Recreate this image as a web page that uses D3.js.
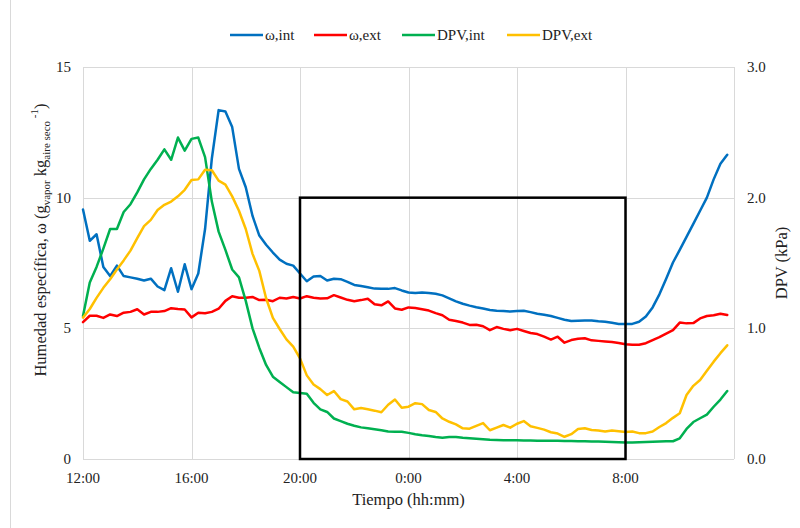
<!DOCTYPE html>
<html>
<head>
<meta charset="utf-8">
<script src="https://cdn.jsdelivr.net/npm/d3@7"></script>
<style>
  body { margin: 0; background: #fff; }
  #chart { width: 800px; height: 528px; }
  text { font-family: "Liberation Serif", "Times New Roman", serif; fill: #222; }
</style>
</head>
<body>
<div id="chart"></div>
<script>
// hours after 12:00, one reading every 15 min
const hours = d3.range(96).map(i => i * 0.25);
const tickHours = [0, 4, 8, 12, 16, 20];
const tickLabels = ["12:00", "16:00", "20:00", "0:00", "4:00", "8:00"];
const leftTicks = [0, 5, 10, 15];
const rightTicks = [0, 1, 2, 3];

const omegaInt = [9.55, 8.35, 8.6, 7.35, 7.0, 7.4, 7.0, 6.95, 6.9, 6.83, 6.9, 6.6,
  6.46, 7.3, 6.4, 7.45, 6.5, 7.1, 8.8, 11.5, 13.35, 13.3, 12.7, 11.1,
  10.4, 9.3, 8.55, 8.2, 7.9, 7.63, 7.47, 7.4, 7.1, 6.8, 6.98, 7.0,
  6.83, 6.9, 6.88, 6.78, 6.66, 6.62, 6.57, 6.52, 6.51, 6.51, 6.54, 6.45,
  6.37, 6.35, 6.37, 6.35, 6.32, 6.26, 6.15, 6.03, 5.94, 5.87, 5.81, 5.76,
  5.7, 5.67, 5.66, 5.64, 5.66, 5.67, 5.62, 5.56, 5.52, 5.47, 5.4, 5.33,
  5.28, 5.29, 5.3, 5.3, 5.27, 5.25, 5.21, 5.17, 5.17, 5.17, 5.25, 5.45,
  5.8, 6.3, 6.9, 7.52, 8.0, 8.5, 9.0, 9.5, 10.0, 10.7, 11.3, 11.64];

const omegaExt = [5.24, 5.48, 5.48, 5.4, 5.53, 5.47, 5.6, 5.63, 5.73, 5.53, 5.63, 5.63,
  5.66, 5.77, 5.74, 5.72, 5.42, 5.6, 5.58, 5.63, 5.75, 6.05, 6.23, 6.17,
  6.17, 6.2, 6.08, 6.09, 6.04, 6.17, 6.14, 6.2, 6.14, 6.23, 6.17, 6.14,
  6.15, 6.27, 6.18, 6.09, 6.04, 6.08, 6.13, 5.92, 5.88, 6.03, 5.76, 5.71,
  5.8, 5.78, 5.73, 5.68, 5.58, 5.5, 5.33, 5.28, 5.22, 5.13, 5.14, 5.08,
  4.93, 5.05, 4.98, 4.93, 4.98, 4.9, 4.82, 4.78, 4.68, 4.57, 4.68, 4.45,
  4.55, 4.6, 4.62, 4.54, 4.52, 4.5, 4.48, 4.44, 4.39, 4.37, 4.37, 4.43,
  4.55, 4.66, 4.8, 4.93, 5.22, 5.19, 5.2, 5.38, 5.47, 5.5, 5.56, 5.51];

const dpvInt = [1.094, 1.35, 1.47, 1.61, 1.76, 1.76, 1.89, 1.95, 2.04, 2.14, 2.22, 2.29,
  2.37, 2.29, 2.46, 2.36, 2.45, 2.46, 2.31, 1.97, 1.74, 1.6, 1.45, 1.39,
  1.21, 1.0, 0.85, 0.72, 0.63, 0.59, 0.55, 0.51, 0.505, 0.5, 0.43, 0.38,
  0.36, 0.31, 0.29, 0.27, 0.255, 0.242, 0.235, 0.228, 0.22, 0.21, 0.209, 0.209,
  0.2, 0.19, 0.182, 0.176, 0.168, 0.163, 0.168, 0.168, 0.162, 0.158, 0.155, 0.152,
  0.147, 0.145, 0.144, 0.143, 0.143, 0.142, 0.141, 0.14, 0.14, 0.14, 0.139, 0.138,
  0.137, 0.136, 0.135, 0.134, 0.133, 0.132, 0.131, 0.129, 0.127, 0.127, 0.128, 0.13,
  0.132, 0.134, 0.136, 0.136, 0.158, 0.23, 0.283, 0.312, 0.34, 0.4, 0.455, 0.52];

const dpvExt = [1.082, 1.148, 1.233, 1.31, 1.375, 1.45, 1.52, 1.595, 1.69, 1.782, 1.83, 1.905,
  1.945, 1.97, 2.01, 2.06, 2.135, 2.14, 2.214, 2.21, 2.13, 2.1, 2.01, 1.9,
  1.76, 1.57, 1.44, 1.23, 1.08, 0.995, 0.915, 0.86, 0.77, 0.64, 0.57, 0.535,
  0.49, 0.52, 0.458, 0.44, 0.38, 0.39, 0.38, 0.37, 0.358, 0.415, 0.455, 0.392,
  0.4, 0.427, 0.42, 0.375, 0.36, 0.31, 0.285, 0.265, 0.235, 0.232, 0.254, 0.275,
  0.22, 0.24, 0.26, 0.24, 0.27, 0.29, 0.25, 0.238, 0.225, 0.205, 0.195, 0.17,
  0.19, 0.229, 0.235, 0.222, 0.218, 0.21, 0.218, 0.212, 0.207, 0.21, 0.198, 0.198,
  0.21, 0.245, 0.275, 0.315, 0.35, 0.49, 0.56, 0.605, 0.675, 0.745, 0.81, 0.87];

// highlighted night window (20:00 to 8:00, up to 10 g/kg)
const boxStart = 8, boxEnd = 20, boxTop = 10;

const series = [
  { name: "ω,int", values: omegaInt, axis: "left", color: "#0070C0" },
  { name: "ω,ext", values: omegaExt, axis: "left", color: "#FF0000" },
  { name: "DPV,int", values: dpvInt, axis: "right", color: "#00B050" },
  { name: "DPV,ext", values: dpvExt, axis: "right", color: "#FFC000" }
];

const width = 800, height = 528;
const margin = { top: 67, right: 66, bottom: 69, left: 83 };

const svg = d3.select("#chart").append("svg")
  .attr("width", width)
  .attr("height", height);

svg.append("rect")
  .attr("x", 10.5).attr("y", -5)
  .attr("width", width).attr("height", height + 10)
  .attr("fill", "none").attr("stroke", "#d9d9d9");

const x = d3.scaleLinear().domain([0, 24]).range([margin.left, width - margin.right]);
const yL = d3.scaleLinear().domain([0, 15]).range([height - margin.bottom, margin.top]);
const yR = d3.scaleLinear().domain([0, 3]).range([height - margin.bottom, margin.top]);

// grid
const grid = svg.append("g").attr("stroke", "#d9d9d9").attr("stroke-width", 1);
grid.selectAll(".h").data(leftTicks).join("line")
  .attr("x1", x(0)).attr("x2", x(24))
  .attr("y1", d => Math.round(yL(d)) + 0.5).attr("y2", d => Math.round(yL(d)) + 0.5);
grid.selectAll(".v").data(tickHours.concat([24])).join("line")
  .attr("x1", d => Math.round(x(d)) + 0.5).attr("x2", d => Math.round(x(d)) + 0.5)
  .attr("y1", yL(0)).attr("y2", yL(15));

// tick labels
svg.append("g").selectAll("text").data(leftTicks).join("text")
  .attr("x", x(0) - 12).attr("y", d => yL(d) + 5)
  .attr("text-anchor", "end").attr("font-size", 15)
  .text(d => d);

svg.append("g").selectAll("text").data(rightTicks).join("text")
  .attr("x", x(24) + 13).attr("y", d => yR(d) + 5)
  .attr("font-size", 15)
  .text(d => d.toFixed(1));

svg.append("g").selectAll("text").data(tickHours).join("text")
  .attr("x", d => x(d)).attr("y", yL(0) + 24)
  .attr("text-anchor", "middle").attr("font-size", 15)
  .text((d, i) => tickLabels[i]);

// axis titles
svg.append("text")
  .attr("x", (x(0) + x(24)) / 2).attr("y", 505)
  .attr("text-anchor", "middle").attr("font-size", 16.5)
  .text("Tiempo (hh:mm)");

svg.append("text")
  .attr("transform", "translate(787, 263) rotate(-90)")
  .attr("text-anchor", "middle").attr("font-size", 16.5)
  .text("DPV (kPa)");

const lt = svg.append("text")
  .attr("transform", "translate(46, 240) rotate(-90)")
  .attr("text-anchor", "middle").attr("font-size", 16.5);
lt.append("tspan").text("Humedad específica, ω (g");
lt.append("tspan").attr("font-size", 11).attr("dy", 4).text("vapor");
lt.append("tspan").attr("dy", -4).text(" kg");
lt.append("tspan").attr("font-size", 11).attr("dy", 4).text("aire seco");
lt.append("tspan").attr("font-size", 11).attr("dy", -12).text(" -1");
lt.append("tspan").attr("dy", 8).text(")");

// lines
series.forEach(s => {
  const y = s.axis === "left" ? yL : yR;
  const line = d3.line()
    .x((d, i) => x(hours[i]))
    .y(d => y(d));
  svg.append("path")
    .datum(s.values)
    .attr("d", line)
    .attr("fill", "none")
    .attr("stroke", s.color)
    .attr("stroke-width", 2.5)
    .attr("stroke-linejoin", "round")
    .attr("stroke-linecap", "round");
});

// highlight box
svg.append("rect")
  .attr("x", x(boxStart)).attr("y", yL(boxTop))
  .attr("width", x(boxEnd) - x(boxStart))
  .attr("height", yL(0) - yL(boxTop))
  .attr("fill", "none").attr("stroke", "#000").attr("stroke-width", 2.5);

// legend
const legendX = [230, 314, 402, 507];
const legend = svg.append("g").selectAll("g").data(series).join("g")
  .attr("transform", (d, i) => `translate(${legendX[i]}, 35)`);
legend.append("line")
  .attr("x1", 0).attr("x2", 33)
  .attr("stroke", d => d.color).attr("stroke-width", 2.5);
legend.append("text")
  .attr("x", 35).attr("y", 5).attr("font-size", 15)
  .text(d => d.name);
</script>
</body>
</html>
